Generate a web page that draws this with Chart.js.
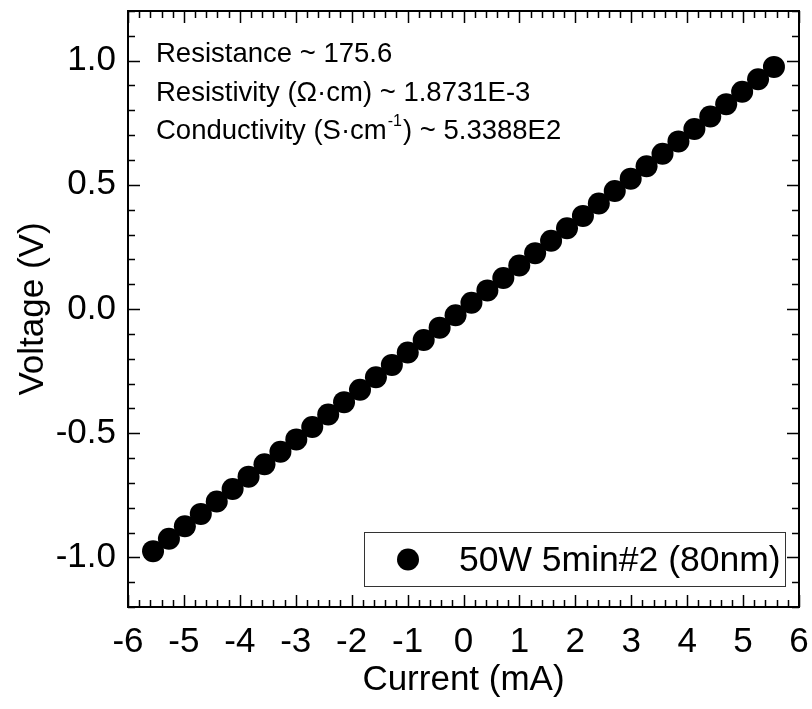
<!DOCTYPE html>
<html>
<head>
<meta charset="utf-8">
<script src="https://cdn.jsdelivr.net/npm/chart.js@4/dist/chart.umd.min.js"></script>
<style>
    html, body { margin: 0; padding: 0; background: #fff; }
    #wrap { width: 812px; height: 709px; }
</style>
</head>
<body>
<div id="wrap"><canvas id="ivChart"></canvas></div>
<script>
// measured I-V points (current in mA, voltage in V)
const currentMA = [
    -5.552, -5.268, -4.983, -4.698, -4.413, -4.129, -3.844, -3.559, -3.274, -2.990,
    -2.705, -2.420, -2.136, -1.851, -1.566, -1.281, -0.997, -0.712, -0.427, -0.142,
    0.142, 0.427, 0.712, 0.997, 1.281, 1.566, 1.851, 2.136, 2.420, 2.705,
    2.990, 3.274, 3.559, 3.844, 4.129, 4.413, 4.698, 4.983, 5.268, 5.552
];
const voltageV = [
    -0.975, -0.925, -0.875, -0.825, -0.775, -0.725, -0.675, -0.625, -0.575, -0.525,
    -0.475, -0.425, -0.375, -0.325, -0.275, -0.225, -0.175, -0.125, -0.075, -0.025,
    0.025, 0.075, 0.125, 0.175, 0.225, 0.275, 0.325, 0.375, 0.425, 0.475,
    0.525, 0.575, 0.625, 0.675, 0.725, 0.775, 0.825, 0.875, 0.925, 0.975
];
const seriesLabel = '50W 5min#2 (80nm)';
const xTicks = [-6, -5, -4, -3, -2, -1, 0, 1, 2, 3, 4, 5, 6];
const yTicks = [-1.0, -0.5, 0.0, 0.5, 1.0];
const xMinorStep = 0.2;
const yMinorStep = 0.1;
const notes = [
    ['Resistance ~ 175.6'],
    ['Resistivity (\u03A9\u00B7cm) ~ 1.8731E-3'],
    ['Conductivity (S\u00B7cm', '-1', ') ~ 5.3388E2']
];

const FONT = '"Liberation Sans", Arial, sans-serif';

// ticks pointing inward on all four sides, plus frame, notes and legend
const framePlugin = {
    id: 'frame',
    afterDatasetsDraw(chart) {
        const ctx = chart.ctx;
        const a = chart.chartArea;
        const xs = chart.scales.x;
        const ys = chart.scales.y;
        ctx.save();
        ctx.strokeStyle = '#000';
        ctx.lineWidth = 1.5;
        ctx.beginPath();
        // x ticks
        for (let i = 0; i <= Math.round((xs.max - xs.min) / xMinorStep); i++) {
            const v = xs.min + i * xMinorStep;
            const px = Math.round(xs.getPixelForValue(v)) + 0.5;
            const major = Math.abs(v - Math.round(v)) < 1e-6;
            const len = major ? 12 : 7;
            ctx.moveTo(px, a.bottom); ctx.lineTo(px, a.bottom - len);
            ctx.moveTo(px, a.top); ctx.lineTo(px, a.top + len);
        }
        // y ticks
        for (let i = 0; i <= Math.round((ys.max - ys.min) / yMinorStep); i++) {
            const v = ys.min + i * yMinorStep;
            const py = Math.round(ys.getPixelForValue(v)) + 0.5;
            const major = Math.abs(v * 2 - Math.round(v * 2)) < 1e-6;
            const len = major ? 12 : 7;
            ctx.moveTo(a.left, py); ctx.lineTo(a.left + len, py);
            ctx.moveTo(a.right, py); ctx.lineTo(a.right - len, py);
        }
        ctx.stroke();

        ctx.lineWidth = 2;
        ctx.strokeRect(a.left, a.top, a.right - a.left, a.bottom - a.top);

        // text notes
        ctx.fillStyle = '#000';
        ctx.textBaseline = 'alphabetic';
        ctx.textAlign = 'left';
        const baselines = [62, 101, 139];
        notes.forEach((parts, i) => {
            let x = 156;
            parts.forEach((p, j) => {
                if (j === 1) {
                    ctx.font = '16px ' + FONT;
                    ctx.fillText(p, x + 1, baselines[i] - 13);
                    x += ctx.measureText(p).width + 2;
                } else {
                    ctx.font = '27.5px ' + FONT;
                    ctx.fillText(p, x, baselines[i]);
                    x += ctx.measureText(p).width;
                }
            });
        });

        // legend box
        ctx.lineWidth = 1;
        ctx.strokeStyle = '#333';
        ctx.strokeRect(364.5, 532.5, 421, 54);
        ctx.beginPath();
        ctx.arc(408, 559.5, 11, 0, Math.PI * 2);
        ctx.fillStyle = '#000';
        ctx.fill();
        ctx.font = '35.5px ' + FONT;
        ctx.textBaseline = 'middle';
        ctx.fillText(chart.data.datasets[0].label, 459, 561);
        ctx.restore();
    }
};

new Chart(document.getElementById('ivChart'), {
    type: 'scatter',
    data: {
        datasets: [{
            label: seriesLabel,
            data: currentMA.map((c, i) => ({ x: c, y: voltageV[i] })),
            pointRadius: 11,
            pointHoverRadius: 11,
            pointBackgroundColor: '#000',
            pointBorderColor: '#000',
            pointBorderWidth: 0,
            showLine: false
        }]
    },
    options: {
        responsive: true,
        maintainAspectRatio: false,
        animation: false,
        layout: { padding: { top: 11, right: 13, left: 0, bottom: 0 } },
        plugins: {
            legend: { display: false },
            tooltip: { enabled: false }
        },
        scales: {
            x: {
                type: 'linear',
                min: -6,
                max: 6,
                afterBuildTicks: (s) => { s.ticks = xTicks.map(v => ({ value: v })); },
                afterFit: (s) => { s.height = 102; s.paddingLeft = 0; s.paddingRight = 0; },
                grid: { display: false, drawTicks: false },
                border: { display: false },
                ticks: {
                    color: '#000',
                    padding: 14,
                    maxRotation: 0,
                    font: { family: FONT, size: 35 },
                    callback: (v) => String(v)
                },
                title: {
                    display: true,
                    text: 'Current (mA)',
                    color: '#000',
                    font: { family: FONT, size: 35 },
                    padding: { top: 0, bottom: 8 }
                }
            },
            y: {
                type: 'linear',
                min: -1.2,
                max: 1.2,
                afterBuildTicks: (s) => { s.ticks = yTicks.map(v => ({ value: v })); },
                afterFit: (s) => { s.width = 128; s.paddingTop = 0; s.paddingBottom = 0; },
                grid: { display: false, drawTicks: false },
                border: { display: false },
                ticks: {
                    color: '#000',
                    padding: 12,
                    font: { family: FONT, size: 35 },
                    callback: (v) => Number(v).toFixed(1)
                },
                title: {
                    display: true,
                    text: 'Voltage (V)',
                    color: '#000',
                    font: { family: FONT, size: 35 },
                    padding: { top: 12, bottom: 0 }
                }
            }
        }
    },
    plugins: [framePlugin]
});
</script>
</body>
</html>
